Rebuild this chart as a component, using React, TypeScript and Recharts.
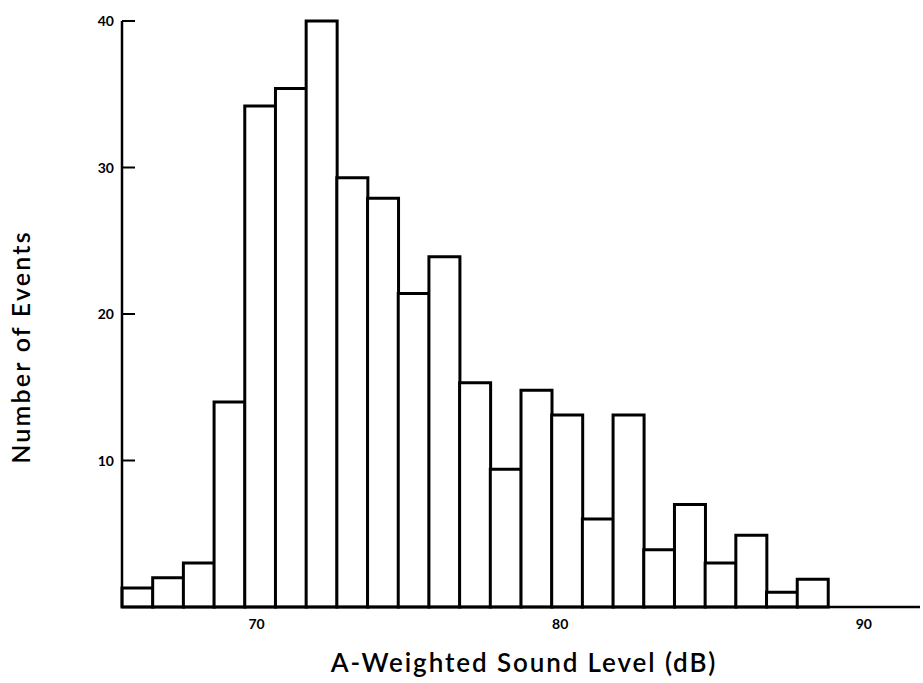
import { BarChart, Bar, XAxis, YAxis } from 'recharts';

// sound level bins (dB), one bar per whole dB
const levels = [66, 67, 68, 69, 70, 71, 72, 73, 74, 75, 76, 77, 78, 79, 80, 81, 82, 83, 84, 85, 86, 87, 88, 89, 90, 91];
const events = [1.3, 2, 3, 14, 34.2, 35.4, 40, 29.3, 27.9, 21.4, 23.9, 15.3, 9.4, 14.8, 13.1, 6, 13.1, 3.9, 7, 3, 4.9, 1, 1.9, null, null, null];
const yTicks = [10, 20, 30, 40];
const xTicks = [70, 80, 90];

const data = levels.map((db, i) => ({ db, events: events[i] }));

const font = 'Lato, "DejaVu Sans", sans-serif';

const YTick = (props: any) => {
  const { x, y, payload } = props;
  return (
    <g>
      <line x1={x} y1={y} x2={x + 13} y2={y} stroke="#000" strokeWidth={2} />
      <text x={x - 8} y={y} dy={5} textAnchor="end" fontSize={14} fontWeight={700} fontFamily={font} fill="#000">
        {payload.value}
      </text>
    </g>
  );
};

export default function App() {
  return (
    <div style={{ position: 'absolute', left: 0, top: 0, background: '#fff' }}>
      <BarChart
        width={923}
        height={683}
        data={data}
        margin={{ top: 21, right: 3, bottom: 0, left: 0 }}
        barCategoryGap={0}
        barGap={0}
      >
        <XAxis
          xAxisId="lbl"
          dataKey="db"
          type="number"
          domain={[65.57, 91.85]}
          allowDataOverflow
          ticks={xTicks}
          height={76}
          axisLine={{ stroke: '#000', strokeWidth: 2.5 }}
          tickLine={false}
          tickSize={0}
          tickMargin={12}
          tick={{ fill: '#000', fontSize: 14, fontWeight: 700, fontFamily: font }}
          label={{
            content: (p: any) => (
              <text
                x={p.viewBox.x + p.viewBox.width / 2 + 3}
                y={p.viewBox.y + 65}
                textAnchor="middle"
                fontSize={26}
                fontWeight={600}
                letterSpacing={1.9}
                fontFamily={font}
                fill="#000"
              >
                A-Weighted Sound Level (dB)
              </text>
            ),
          }}
        />
        <XAxis xAxisId="bins" dataKey="db" type="category" hide height={0} />
        <YAxis
          width={122}
          domain={[0, 40]}
          ticks={yTicks}
          axisLine={{ stroke: '#000', strokeWidth: 2.5 }}
          tickLine={false}
          tickSize={0}
          tickMargin={0}
          tick={<YTick />}
          label={{
            content: (p: any) => (
              <text
                x={0}
                y={0}
                transform={`translate(30, ${p.viewBox.y + p.viewBox.height / 2 + 33}) rotate(-90)`}
                textAnchor="middle"
                fontSize={25}
                fontWeight={600}
                letterSpacing={2.2}
                fontFamily={font}
                fill="#000"
              >
                Number of Events
              </text>
            ),
          }}
        />
        <Bar
          xAxisId="bins"
          dataKey="events"
          fill="#fff"
          stroke="#000"
          strokeWidth={3}
          isAnimationActive={false}
        />
      </BarChart>
    </div>
  );
}
